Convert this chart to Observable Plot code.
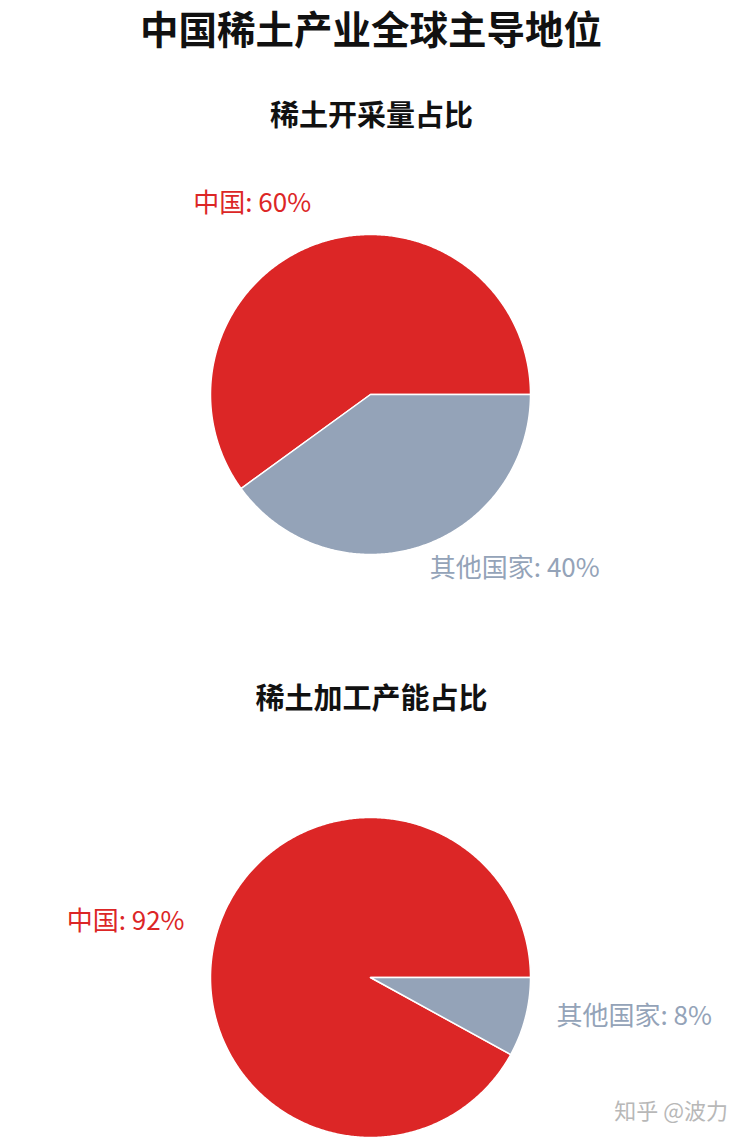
<!DOCTYPE html>
<html>
<head>
<meta charset="utf-8">
<script src="https://cdn.jsdelivr.net/npm/d3@7"></script>
<script src="https://cdn.jsdelivr.net/npm/@observablehq/plot@0.6"></script>
<style>
  html, body { margin: 0; padding: 0; background: #fff; width: 747px; height: 1141px; overflow: hidden; position: relative; }
  body { font-family: "Noto Sans CJK SC", "Noto Sans", sans-serif; }
  .title { height: 70px; line-height: 54px; text-align: center; font-size: 38.5px; font-weight: 700; color: #111; padding-right: 5px; }
  .sub { height: 90px; line-height: 86px; text-align: center; font-size: 29px; font-weight: 700; color: #111; padding-right: 4px; }
  .block { height: 583px; }
  .wm { position: absolute; right: 19px; top: 1093px; font-size: 22px; color: #b8b8b8; text-shadow: 0 0 2px #fff; white-space: nowrap; }
</style>
</head>
<body>
<div class="title">中国稀土产业全球主导地位</div>
<div id="charts"></div>
<div class="wm">知乎 @波力</div>
<script>
// Data
const categories = ["中国", "其他国家"];
const miningShare = [60, 40];       // 稀土开采量占比 (%)
const processingShare = [92, 8];    // 稀土加工产能占比 (%)
const chartTitles = ["稀土开采量占比", "稀土加工产能占比"];
const colors = ["#DC2626", "#94A3B8"];

function slices(values) {
  // counter-clockwise from 3 o'clock, first category first
  const total = d3.sum(values);
  let a0 = 0;
  return values.map((v, i) => {
    const a1 = a0 + (v / total) * 2 * Math.PI;
    const s = {name: categories[i], value: v, a0, a1};
    a0 = a1;
    return s;
  });
}

function piePoints(sl) {
  const pts = [];
  for (const s of sl) {
    pts.push({name: s.name, x: 0, y: 0});
    const n = Math.max(2, Math.ceil((s.a1 - s.a0) / (Math.PI / 360)));
    for (let k = 0; k <= n; k++) {
      const a = s.a0 + (s.a1 - s.a0) * k / n;
      pts.push({name: s.name, x: Math.cos(a), y: Math.sin(a)});
    }
    pts.push({name: s.name, x: 0, y: 0});
  }
  return pts;
}

function labels(sl) {
  return sl.map(s => {
    const m = (s.a0 + s.a1) / 2;
    return {name: s.name, text: `${s.name}: ${s.value}%`, x: 1.2 * Math.cos(m), y: 1.2 * Math.sin(m), right: Math.cos(m) >= 0};
  });
}

function pie(values) {
  const sl = slices(values);
  const lab = labels(sl);
  const W = 747, H = 493, R = 160, cx = 370, cy = 234;
  return Plot.plot({
    width: W, height: H,
    margin: 0,
    x: {domain: [-cx / R, (W - cx) / R], axis: null},
    y: {domain: [-(H - cy) / R, cy / R], axis: null},
    color: {domain: categories, range: colors},
    style: {fontFamily: '"Noto Sans CJK SC", "Noto Sans", sans-serif', background: "transparent"},
    marks: [
      Plot.line(piePoints(sl), {x: "x", y: "y", z: "name", fill: "name", stroke: "white", strokeWidth: 1.5, strokeLinejoin: "round"}),
      Plot.text(lab.filter(d => d.right), {x: "x", y: "y", text: "text", fill: "name", textAnchor: "start", lineAnchor: "bottom", fontSize: 26}),
      Plot.text(lab.filter(d => !d.right), {x: "x", y: "y", text: "text", fill: "name", textAnchor: "end", lineAnchor: "bottom", fontSize: 26})
    ]
  });
}

const container = document.getElementById("charts");
[miningShare, processingShare].forEach((vals, i) => {
  const block = document.createElement("div");
  block.className = "block";
  const t = document.createElement("div");
  t.className = "sub";
  t.textContent = chartTitles[i];
  block.appendChild(t);
  block.appendChild(pie(vals));
  container.appendChild(block);
});
</script>
</body>
</html>
